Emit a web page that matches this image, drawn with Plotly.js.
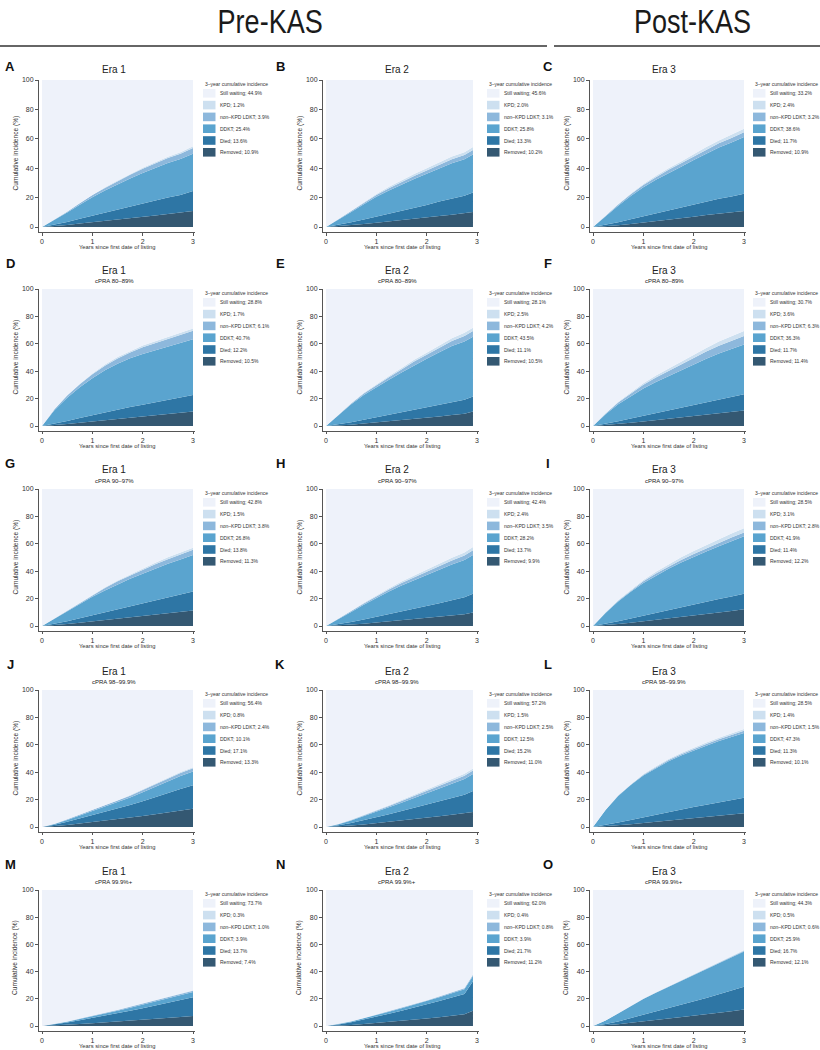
<!DOCTYPE html>
<html>
<head>
<meta charset="utf-8">
<script src="https://cdn.plot.ly/plotly-3.0.1.min.js"></script>
<style>html,body{margin:0;padding:0;background:#fff;}#chart{width:820px;height:1050px;}</style>
</head>
<body>
<div id="chart"></div>
<script>
// ---------- DATA ----------
const panelLetters = ['A','B','C','D','E','F','G','H','I','J','K','L','M','N','O'];
const eraLabels = ['Era 1','Era 2','Era 3'];
const cpraLabels = ['', 'cPRA 80–89%', 'cPRA 90–97%', 'cPRA 98–99.9%', 'cPRA 99.9%+'];
const headerLabels = ['Pre-KAS', 'Post-KAS'];
const categoryNames = ['Still waiting', 'KPD', 'non–KPD LDKT', 'DDKT', 'Died', 'Removed'];
const legendTitle = '3–year cumulative incidence';
const xTickVals = [0, 1, 2, 3];
const yTickVals = [0, 20, 40, 60, 80, 100];

const yearsEra13 = [0,0.25,0.5,0.75,1,1.25,1.5,1.75,2,2.25,2.5,2.75,3];
const yearsEra2  = [0,0.25,0.5,0.75,1,1.25,1.5,1.75,2,2.25,2.5,2.75,2.92];

// cumulative incidence (%) of each outcome, per panel A..O
const removed = [
  [0,0.6,1.4,2.4,3.4,4.3,5.2,6.0,7.0,7.9,8.8,9.6,10.9],
  [0,0.5,1.2,2.0,2.9,3.7,4.6,5.6,6.5,7.4,8.4,9.2,10.2],
  [0,0.5,1.2,2.1,3.0,3.9,4.9,5.8,7.0,8.1,9.0,9.8,10.9],
  [0,0.6,1.5,2.4,3.3,4.2,5.0,5.9,6.8,7.7,8.7,9.5,10.5],
  [0,0.4,1.0,1.8,2.6,3.4,4.3,5.2,6.0,7.0,8.0,9.0,10.5],
  [0,0.6,1.4,2.3,3.2,4.2,5.2,6.3,7.4,8.5,9.6,10.5,11.4],
  [0,0.6,1.4,2.4,3.4,4.4,5.3,6.3,7.2,8.2,9.2,10.1,11.3],
  [0,0.4,1.0,1.7,2.5,3.3,4.1,4.9,5.8,6.7,7.6,8.6,9.9],
  [0,0.6,1.4,2.4,3.4,4.4,5.4,6.5,7.6,8.7,9.9,11.0,12.2],
  [0,0.6,1.5,2.5,3.5,4.5,5.5,6.8,8.0,9.3,10.8,12.0,13.3],
  [0,0.4,1.1,1.9,2.8,3.7,4.7,5.7,6.7,7.8,8.9,9.9,11.0],
  [0,0.5,1.2,2.0,2.9,3.8,4.7,5.6,6.5,7.4,8.3,9.2,10.1],
  [0,0.3,0.8,1.4,2.0,2.6,3.2,3.9,4.6,5.3,6.0,6.7,7.4],
  [0,0.3,0.8,1.5,2.2,3.0,3.8,4.6,5.5,6.5,7.5,8.6,11.2],
  [0,0.5,1.3,2.3,3.3,4.3,5.3,6.3,7.4,8.5,9.7,10.9,12.1]
];
const died = [
  [0,0.9,2.0,3.2,4.3,5.5,6.6,7.6,8.6,9.8,11.2,12.2,13.6],
  [0,1.0,2.0,3.1,4.1,5.2,6.3,7.3,8.4,10.0,11.2,12.1,13.3],
  [0,1.0,2.1,3.2,4.3,5.2,6.1,7.2,8.5,9.4,10.2,10.9,11.7],
  [0,1.0,2.2,3.4,4.6,6.0,7.0,8.0,8.8,9.6,10.3,11.2,12.2],
  [0,0.8,1.8,2.8,3.8,4.8,5.7,6.6,7.5,8.4,9.4,10.2,11.1],
  [0,0.9,2.0,3.1,4.2,5.1,6.0,7.0,8.0,9.0,10.0,10.9,11.7],
  [0,0.9,2.0,3.2,4.4,5.6,6.8,7.9,9.0,10.2,11.4,12.6,13.8],
  [0,0.9,2.0,3.1,4.2,5.3,6.5,7.6,8.7,9.9,11.2,12.4,13.7],
  [0,0.9,2.0,3.1,4.2,5.2,6.2,7.2,8.1,8.9,9.8,10.6,11.4],
  [0,1.0,2.3,3.7,5.0,6.3,7.7,9.2,10.8,12.5,14.2,15.8,17.1],
  [0,0.8,1.9,3.1,4.3,5.6,6.9,8.2,9.5,10.9,12.3,13.6,15.2],
  [0,0.9,2.0,3.1,4.2,5.3,6.3,7.2,8.1,8.9,9.8,10.6,11.3],
  [0,0.8,1.8,2.9,3.9,5.0,6.1,7.3,8.5,9.7,11.0,12.4,13.7],
  [0,0.8,2.0,3.2,4.6,6.0,7.4,8.8,10.3,11.8,13.4,15.0,21.7],
  [0,0.9,2.1,3.5,4.9,6.3,7.7,9.1,10.6,12.1,13.6,15.2,16.7]
];
const ddkt = [
  [0,3.3,6.4,9.6,12.6,15.0,17.2,19.4,21.2,22.5,23.6,24.4,25.4],
  [0,3.4,7.0,10.3,13.6,16.0,18.0,19.8,21.3,22.6,23.8,24.8,25.8],
  [0,6.0,11.2,15.8,19.8,23.0,25.8,28.0,30.0,32.5,34.8,36.8,38.6],
  [0,10.0,17.0,22.5,27.0,30.5,33.5,35.5,37.0,38.0,39.0,40.0,40.7],
  [0,7.0,13.0,18.0,22.0,25.5,29.0,32.5,35.5,38.5,41.0,42.5,43.5],
  [0,7.0,12.5,16.5,20.0,22.8,25.2,27.5,29.5,31.5,33.3,35.0,36.3],
  [0,3.8,7.2,10.5,13.5,16.0,18.3,20.2,22.0,23.5,24.8,25.8,26.8],
  [0,3.6,7.3,10.8,14.0,16.6,19.0,21.0,22.8,24.5,26.0,27.2,28.2],
  [0,8.0,14.5,19.5,23.8,27.2,30.2,32.6,34.8,36.8,38.6,40.3,41.9],
  [0,0.6,1.4,2.2,3.0,3.8,4.6,5.5,6.5,7.5,8.5,9.4,10.1],
  [0,0.8,1.8,2.9,4.0,5.0,6.1,7.2,8.3,9.4,10.5,11.6,12.5],
  [0,11.0,19.5,25.5,30.5,34.0,37.0,39.3,41.3,43.0,44.6,46.0,47.3],
  [0,0.3,0.6,0.9,1.2,1.5,1.9,2.3,2.7,3.1,3.4,3.7,3.9],
  [0,0.3,0.6,0.9,1.2,1.5,1.9,2.2,2.5,2.8,3.1,3.4,3.9],
  [0,2.6,5.8,8.8,11.6,13.8,15.8,17.7,19.5,21.2,22.9,24.5,25.9]
];
const ldkt = [
  [0,0.3,0.6,1.0,1.4,1.8,2.2,2.5,2.8,3.1,3.3,3.6,3.9],
  [0,0.3,0.6,0.9,1.2,1.5,1.8,2.0,2.2,2.5,2.7,2.9,3.1],
  [0,0.4,0.8,1.2,1.5,1.8,2.1,2.3,2.5,2.7,2.9,3.0,3.2],
  [0,0.8,1.5,2.2,2.8,3.3,3.8,4.3,4.8,5.2,5.5,5.8,6.1],
  [0,0.3,0.7,1.1,1.5,1.9,2.3,2.7,3.0,3.4,3.7,4.0,4.2],
  [0,0.6,1.3,2.0,2.7,3.3,3.8,4.3,4.8,5.3,5.7,6.0,6.3],
  [0,0.3,0.6,1.0,1.4,1.8,2.2,2.5,2.8,3.1,3.4,3.6,3.8],
  [0,0.3,0.6,0.9,1.2,1.5,1.8,2.1,2.4,2.7,3.0,3.3,3.5],
  [0,0.3,0.6,0.9,1.2,1.5,1.7,1.9,2.1,2.3,2.5,2.7,2.8],
  [0,0.2,0.4,0.6,0.8,1.0,1.2,1.4,1.7,1.9,2.1,2.3,2.4],
  [0,0.2,0.4,0.6,0.8,1.0,1.3,1.5,1.7,1.9,2.1,2.3,2.5],
  [0,0.1,0.3,0.4,0.6,0.7,0.9,1.0,1.1,1.2,1.3,1.4,1.5],
  [0,0.1,0.2,0.3,0.4,0.5,0.6,0.7,0.7,0.8,0.9,1.0,1.0],
  [0,0.1,0.1,0.2,0.3,0.3,0.4,0.5,0.5,0.6,0.7,0.7,0.8],
  [0,0.1,0.1,0.2,0.2,0.3,0.3,0.4,0.4,0.5,0.5,0.6,0.6]
];
const kpd = [
  [0,0.05,0.1,0.2,0.3,0.4,0.5,0.6,0.7,0.8,0.9,1.0,1.2],
  [0,0.1,0.3,0.5,0.7,0.9,1.1,1.3,1.5,1.6,1.8,1.9,2.0],
  [0,0.1,0.3,0.5,0.7,0.9,1.1,1.3,1.6,1.8,2.0,2.2,2.4],
  [0,0.1,0.2,0.4,0.6,0.8,1.0,1.1,1.3,1.4,1.5,1.6,1.7],
  [0,0.1,0.3,0.5,0.7,0.9,1.1,1.3,1.5,1.8,2.0,2.3,2.5],
  [0,0.2,0.5,0.8,1.1,1.4,1.7,2.0,2.4,2.7,3.0,3.3,3.6],
  [0,0.1,0.2,0.3,0.4,0.5,0.7,0.8,1.0,1.1,1.3,1.4,1.5],
  [0,0.1,0.3,0.5,0.7,0.9,1.1,1.3,1.5,1.7,2.0,2.2,2.4],
  [0,0.2,0.4,0.7,1.0,1.3,1.6,1.9,2.1,2.4,2.7,2.9,3.1],
  [0,0.0,0.1,0.1,0.2,0.3,0.4,0.4,0.5,0.6,0.7,0.7,0.8],
  [0,0.1,0.2,0.3,0.4,0.5,0.7,0.8,0.9,1.1,1.2,1.4,1.5],
  [0,0.1,0.2,0.3,0.5,0.6,0.7,0.9,1.0,1.1,1.2,1.3,1.4],
  [0,0.0,0.0,0.1,0.1,0.1,0.2,0.2,0.2,0.2,0.3,0.3,0.3],
  [0,0.0,0.0,0.1,0.1,0.1,0.2,0.2,0.2,0.3,0.3,0.3,0.4],
  [0,0.0,0.1,0.1,0.2,0.2,0.3,0.3,0.4,0.4,0.4,0.5,0.5]
];

// 3-year cumulative incidence shown in each legend (%), panels A..O
const pctStillWaiting = [44.9,45.6,33.2,28.8,28.1,30.7,42.8,42.4,28.5,56.4,57.2,28.5,73.7,62.0,44.3];
const pctKPD          = [1.2,2.0,2.4,1.7,2.5,3.6,1.5,2.4,3.1,0.8,1.5,1.4,0.3,0.4,0.5];
const pctLDKT         = [3.9,3.1,3.2,6.1,4.2,6.3,3.8,3.5,2.8,2.4,2.5,1.5,1.0,0.8,0.6];
const pctDDKT         = [25.4,25.8,38.6,40.7,43.5,36.3,26.8,28.2,41.9,10.1,12.5,47.3,3.9,3.9,25.9];
const pctDied         = [13.6,13.3,11.7,12.2,11.1,11.7,13.8,13.7,11.4,17.1,15.2,11.3,13.7,21.7,16.7];
const pctRemoved      = [10.9,10.2,10.9,10.5,10.5,11.4,11.3,9.9,12.2,13.3,11.0,10.1,7.4,11.2,12.1];

// ---------- STYLE / LAYOUT ----------
const W = 820, H = 1050;
const colors = {still:'#eef2fa', kpd:'#cde0f0', ldkt:'#8db8dc', ddkt:'#5aa4cf', died:'#2e76a5', removed:'#345872'};
const legendColors = [colors.still, colors.kpd, colors.ldkt, colors.ddkt, colors.died, colors.removed];
const FONT = '"Liberation Sans", Arial, sans-serif';

const colX0 = [42, 326, 593];      // pixel of year 0
const pxPerYear = 151/3;
const rowTop = [80, 289, 489, 690, 890];   // pixel of 100%
const rowZero = [227, 426, 626, 827, 1026]; // pixel of 0%
const xRange = [-0.06, 3.04];
const yRange = [-3.5, 100];
const legendX = [203, 487, 753];
const titleX = [114, 397, 664];
const letterX = [10, 280, 548];

const px = x => x / W;
const py = y => 1 - y / H;

const traces = [];
const layout = {
  width: W, height: H,
  margin: {l:0, r:0, t:0, b:0},
  paper_bgcolor: '#ffffff', plot_bgcolor: 'rgba(0,0,0,0)',
  showlegend: false,
  font: {family: FONT, color: '#333'},
  annotations: [], shapes: []
};

// header
const headerCenters = [270, 692];
const headerLines = [[0, 547], [554, 820]];
headerLabels.forEach((lab, k) => {
  layout.annotations.push({text: lab, xref:'paper', yref:'paper', x: px(headerCenters[k]), y: py(22),
    xanchor:'center', yanchor:'middle', showarrow:false, name:'header',
    font:{family: FONT, size: 33, color:'#1a1a1a'}});
  layout.shapes.push({type:'line', xref:'paper', yref:'paper',
    x0: px(headerLines[k][0]), x1: px(headerLines[k][1]), y0: py(46), y1: py(46),
    line:{color:'#333', width:1.3}});
});

for (let i = 0; i < 15; i++) {
  const row = Math.floor(i / 3), col = i % 3;
  const sfx = i === 0 ? '' : String(i + 1);
  const xa = 'x' + sfx, ya = 'y' + sfx;
  const years = col === 1 ? yearsEra2 : yearsEra13;

  const series = [removed[i], died[i], ddkt[i], ldkt[i], kpd[i]];
  const fills = [colors.removed, colors.died, colors.ddkt, colors.ldkt, colors.kpd];
  series.forEach((s, k) => {
    traces.push({type:'scatter', mode:'lines', x: years, y: s, xaxis: xa, yaxis: ya,
      stackgroup: 'g' + i, line:{width:0, color: fills[k]}, fillcolor: fills[k],
      hoverinfo:'skip', showlegend:false});
  });
  const still = years.map((_, j) => 100 - series.reduce((a, s) => a + s[j], 0));
  traces.push({type:'scatter', mode:'lines', x: years, y: still, xaxis: xa, yaxis: ya,
    stackgroup: 'g' + i, line:{width:0, color: colors.still}, fillcolor: colors.still,
    hoverinfo:'skip', showlegend:false});

  // axes
  const x0 = colX0[col];
  const left = x0 + xRange[0] * pxPerYear, right = x0 + xRange[1] * pxPerYear;
  const top = rowTop[row], zero = rowZero[row];
  const ppu = (zero - top) / 100;
  const bottom = zero - yRange[0] * ppu;
  layout['xaxis' + sfx] = {domain:[px(left), px(right)], range: xRange, anchor: ya,
    showline:true, linecolor:'#555', linewidth:1, ticks:'outside', ticklen:2.5, tickcolor:'#555',
    tickvals: xTickVals, ticktext: xTickVals.map(String), showgrid:false, zeroline:false,
    tickfont:{size:7, color:'#333', family: FONT}, fixedrange:true};
  layout['yaxis' + sfx] = {domain:[py(bottom), py(top)], range: yRange, anchor: xa,
    showline:true, linecolor:'#555', linewidth:1, ticks:'outside', ticklen:3, tickcolor:'#555',
    tickvals: yTickVals, ticktext: yTickVals.map(String), showgrid:false, zeroline:false,
    tickfont:{size:7, color:'#333', family: FONT}, fixedrange:true};

  // axis titles
  layout.annotations.push({text:'Years since first date of listing', xref:'paper', yref:'paper',
    x: px(x0 + 1.5 * pxPerYear), y: py(zero + 20), xanchor:'center', yanchor:'middle', showarrow:false,
    font:{size:5.8, color:'#333', family: FONT}});
  layout.annotations.push({text:'Cumulative incidence (%)', xref:'paper', yref:'paper',
    x: px(x0 - 27), y: py((top + zero) / 2), xanchor:'center', yanchor:'middle', showarrow:false,
    textangle:-90, font:{size:6.6, color:'#333', family: FONT}});

  // panel letter & titles
  const letterY = row === 0 ? top - 13 : top - 26;
  layout.annotations.push({text:'<b>' + panelLetters[i] + '</b>', xref:'paper', yref:'paper',
    x: px(letterX[col]), y: py(letterY), xanchor:'center', yanchor:'middle', showarrow:false,
    font:{size:13, color:'#111', family: FONT}});
  const eraY = row === 0 ? top - 10 : top - 19;
  layout.annotations.push({text: eraLabels[col], xref:'paper', yref:'paper',
    x: px(titleX[col]), y: py(eraY), xanchor:'center', yanchor:'middle', showarrow:false,
    font:{size:10, color:'#222', family: FONT}});
  if (row > 0) {
    layout.annotations.push({text: cpraLabels[row], xref:'paper', yref:'paper',
      x: px(titleX[col]), y: py(top - 8), xanchor:'center', yanchor:'middle', showarrow:false,
      font:{size:6, color:'#222', family: FONT}});
  }

  // legend
  const lx = legendX[col];
  layout.annotations.push({text: legendTitle, xref:'paper', yref:'paper',
    x: px(lx), y: py(top + 4.3), xanchor:'left', yanchor:'middle', showarrow:false,
    font:{size:5, color:'#333', family: FONT}});
  const pcts = [pctStillWaiting[i], pctKPD[i], pctLDKT[i], pctDDKT[i], pctDied[i], pctRemoved[i]];
  categoryNames.forEach((nm, k) => {
    const cy = top + 13.3 + k * 11.8;
    layout.shapes.push({type:'rect', xref:'paper', yref:'paper',
      x0: px(lx), x1: px(lx + 12.5), y0: py(cy - 4.3), y1: py(cy + 4.3),
      fillcolor: legendColors[k], line:{width:0}});
    layout.annotations.push({text: nm + '; ' + pcts[k].toFixed(1) + '%', xref:'paper', yref:'paper',
      x: px(lx + 14.5), y: py(cy), xanchor:'left', yanchor:'middle', showarrow:false,
      font:{size:5, color:'#333', family: FONT}});
  });
}

Plotly.newPlot('chart', traces, layout, {staticPlot:true, displayModeBar:false}).then(() => {
  // condense the two header words horizontally (the reference uses a narrow typeface)
  document.querySelectorAll('.annotation-text').forEach(t => {
    if (headerLabels.includes(t.textContent)) {
      const b = t.getBBox();
      const cx = b.x + b.width / 2;
      t.setAttribute('transform', `translate(${cx},0) scale(0.82,1) translate(${-cx},0)`);
    }
  });
});
</script>
</body>
</html>
